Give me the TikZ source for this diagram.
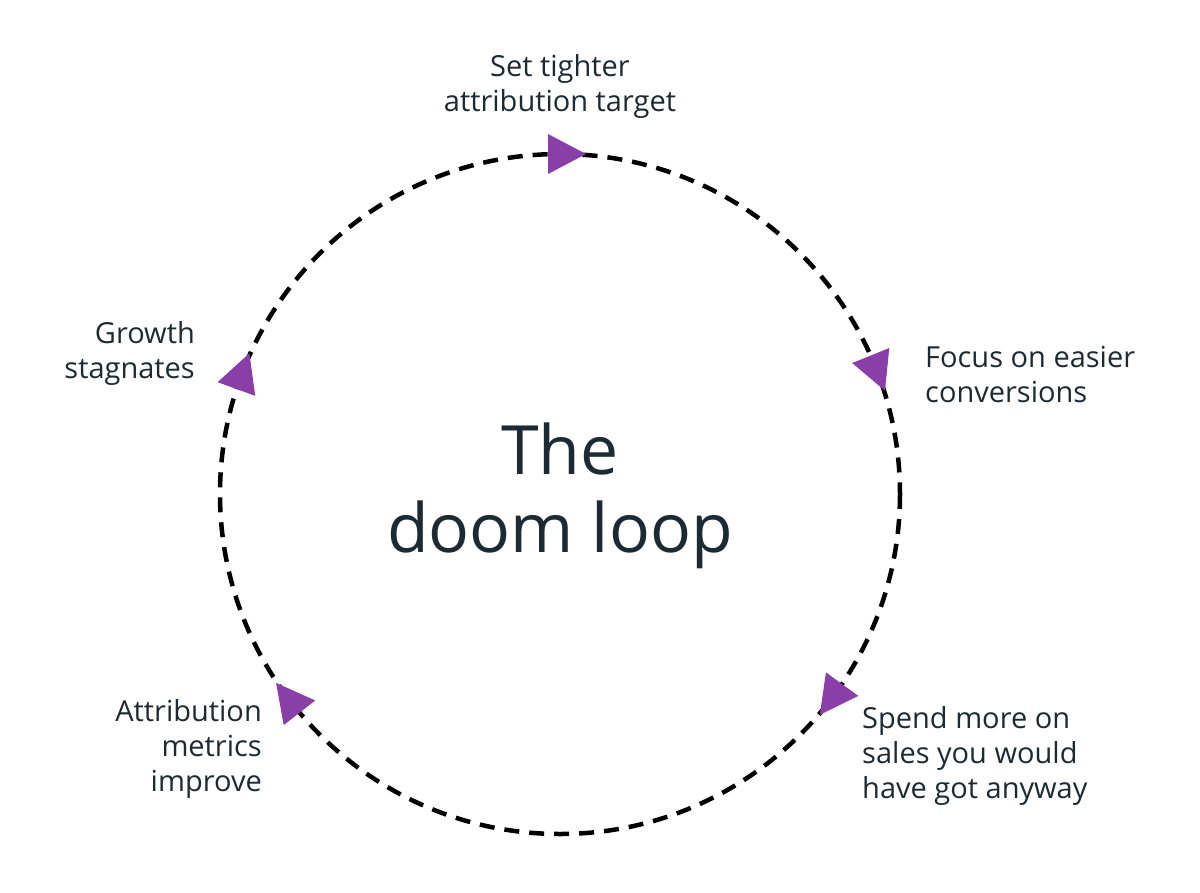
\documentclass[tikz,border=0pt]{standalone}
\usepackage{fontspec}
\setmainfont{Open Sans}
\definecolor{ink}{HTML}{1C2B33}
\definecolor{loop}{HTML}{2B2F2E}
\definecolor{arr}{HTML}{8A3FA8}
\begin{document}
\begin{tikzpicture}[x=1pt,y=-1pt,
  lbl/.style={font=\fontsize{29}{35}\selectfont,text=ink,inner sep=0pt},
  tip/.style={fill=arr,draw=none}]
\useasboundingbox (0,0) rectangle (1200,892);
\coordinate (c) at (560,494);
\draw[loop,line width=4.5pt,dash pattern=on 15pt off 10pt] (c) circle[radius=340];
\foreach \a/\n in {90/t1,22/t2,-36/t3,218/t4,160/t5}{
  \begin{scope}[shift={(c)},rotate=\a]
    \coordinate (\n) at (340,0);
    \fill[tip] (360,-12) -- (320,-12) -- (340,26) -- cycle;
  \end{scope}}
\node[lbl,align=center,anchor=south] (top) at (560,119) {Set tighter\\attribution target};
\node[lbl,align=left,anchor=west] (r1) at (925,374) {Focus on easier\\conversions};
\node[lbl,align=left,anchor=west] (r2) at (862,756) {Spend more on\\sales you would\\have got anyway};
\node[lbl,align=right,anchor=east] (l2) at (262,749) {Attribution\\metrics\\improve};
\node[lbl,align=right,anchor=east] (l1) at (195,353) {Growth\\stagnates};
\node[font=\fontsize{68}{78}\selectfont,text=ink,align=center,inner sep=0pt] (title) at (560,496) {The\\doom loop};
\end{tikzpicture}
\end{document}
